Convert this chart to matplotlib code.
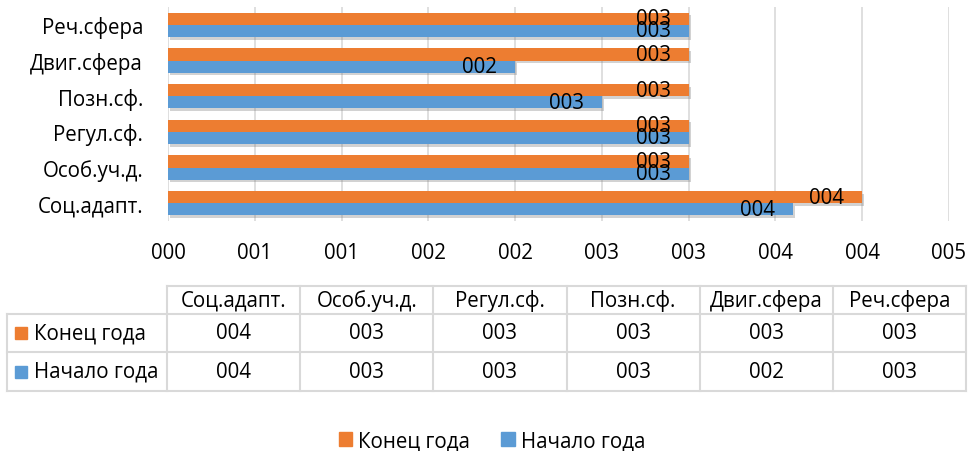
import matplotlib
matplotlib.use('Agg')
import matplotlib.pyplot as plt
import matplotlib.ticker as tkr
from matplotlib import patheffects as pe
from matplotlib.patches import Patch, Rectangle
import numpy as np

plt.rcParams['font.family'] = ['Open Sans', 'DejaVu Sans']

# Chart data (bottom category first, as on the axis)
categories = ['Соц.адапт.', 'Особ.уч.д.', 'Регул.сф.', 'Позн.сф.', 'Двиг.сфера', 'Реч.сфера']
end_year = [4.0, 3.0, 3.0, 3.0, 3.0, 3.0]
start_year = [3.6, 3.0, 3.0, 2.5, 2.0, 3.0]
series_names = ['Конец года', 'Начало года']
x_ticks = np.arange(0, 4.51, 0.5)

ORANGE = '#ED7D31'
BLUE = '#5B9BD5'
GRID = '#D9D9D9'
FS = 14.8


def fmt(v):
    # Excel-like "000" number format (round half up)
    return format(int(v + 0.5), '03d')


W, H = 968, 452
fig = plt.figure(figsize=(W / 100, H / 100), dpi=100)


def frame(x0, y0, x1, y1):
    return [x0 / W, 1 - y1 / H, (x1 - x0) / W, (y1 - y0) / H]


# overlay for data table
tab = fig.add_axes([0, 0, 1, 1])
tab.set_xlim(0, W)
tab.set_ylim(H, 0)
tab.axis('off')
tab.patch.set_visible(False)

ax = fig.add_axes(frame(168, 8, 949, 222))
y = np.arange(len(categories))
h = 0.34
shadow = [pe.SimplePatchShadow(offset=(1.5, -2), shadow_rgbFace='#7f7f7f', alpha=0.35), pe.Normal()]
b_end = ax.barh(y + h / 2, end_year, height=h, color=ORANGE, zorder=3, path_effects=shadow)
b_start = ax.barh(y - h / 2, start_year, height=h, color=BLUE, zorder=3, path_effects=shadow)

for bars, vals in [(b_end, end_year), (b_start, start_year)]:
    for rect, v in zip(bars, vals):
        ax.annotate(fmt(v), (v, rect.get_y() + rect.get_height() / 2),
                    xytext=(-13, 0), textcoords='offset points',
                    ha='right', va='center', fontsize=FS, zorder=4)

ax.set_xlim(0, 4.5)
ax.set_ylim(-0.5, len(categories) - 0.5)
ax.set_xticks(x_ticks)
ax.xaxis.set_major_formatter(tkr.FuncFormatter(lambda x, p: fmt(x)))
ax.set_yticks(y)
ax.set_yticklabels(categories)
ax.tick_params(axis='both', length=0, labelsize=FS)
ax.tick_params(axis='y', pad=18)
ax.tick_params(axis='x', pad=15)
ax.grid(axis='x', color=GRID, linewidth=1.2, zorder=0)
for s in ax.spines.values():
    s.set_visible(False)

# data table
col_x0, col_x1 = 167, 966
lab_x0 = 7
row_y = [287, 315, 353, 392]
ncol = len(categories)
col_edges = np.linspace(col_x0, col_x1, ncol + 1)
lw = 1.5
# horizontal lines
tab.plot([col_x0, col_x1], [row_y[0]] * 2, color=GRID, lw=lw)
for yy in row_y[1:]:
    tab.plot([lab_x0, col_x1], [yy] * 2, color=GRID, lw=lw)
# vertical lines
tab.plot([lab_x0, lab_x0], [row_y[1], row_y[3]], color=GRID, lw=lw)
for xx in col_edges:
    tab.plot([xx, xx], [row_y[0], row_y[3]], color=GRID, lw=lw)

centers = (col_edges[:-1] + col_edges[1:]) / 2
for cx, name in zip(centers, categories):
    tab.text(cx, (row_y[0] + row_y[1]) / 2, name, ha='center', va='center', fontsize=FS)

for r, (name, vals, col) in enumerate(zip(series_names, [end_year, start_year], [ORANGE, BLUE])):
    yc = (row_y[r + 1] + row_y[r + 2]) / 2
    tab.add_patch(Rectangle((15, yc - 6), 12, 12, color=col))
    tab.text(34, yc, name, ha='left', va='center', fontsize=FS)
    for cx, v in zip(centers, vals):
        tab.text(cx, yc, fmt(v), ha='center', va='center', fontsize=FS)

handles = [Patch(color=ORANGE), Patch(color=BLUE)]
fig.legend(handles, series_names, loc='center', bbox_to_anchor=(492 / W, 1 - 442 / H),
           ncol=2, frameon=False, fontsize=FS, handlelength=0.65, handleheight=0.65,
           handletextpad=0.3, columnspacing=1.5, borderpad=0)

fig.savefig('out.png', dpi=100)
